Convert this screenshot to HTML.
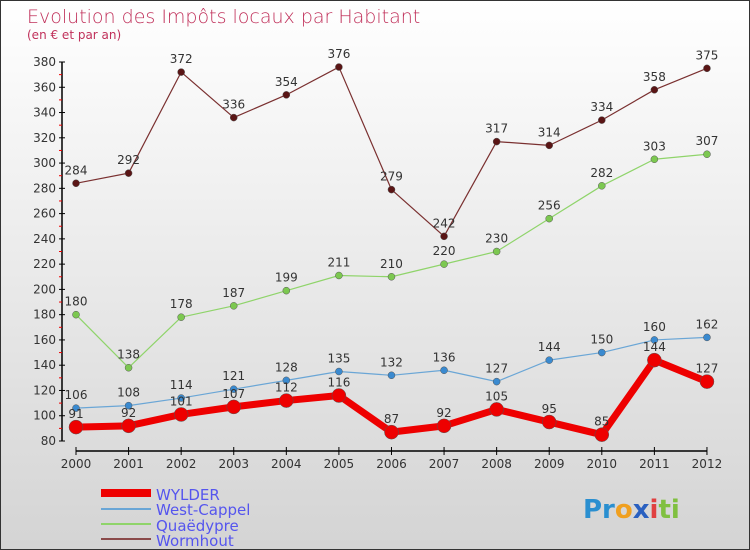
<!DOCTYPE html>
<html><head><meta charset="utf-8"><style>
body{margin:0}
#c{width:748px;height:548px;border:1px solid #333;background:linear-gradient(#ffffff,#d4d4d4);position:relative;font-family:"DejaVu Sans","Liberation Sans",sans-serif;overflow:hidden}
</style></head><body>
<div id="c">
<svg id="s" width="748" height="548" xmlns="http://www.w3.org/2000/svg">
<text x="26" y="22" font-size="19" fill="#c0305a" font-family="DejaVu Sans, sans-serif" font-weight="200">Evolution des Impôts locaux par Habitant</text>
<text x="26" y="38" font-size="12" fill="#c0305a">(en € et par an)</text>
<g id="axes"></g><g id="series"></g>
<g>
<line x1="100" y1="492" x2="150" y2="492" stroke="#e00" stroke-width="8"/>
<text x="155" y="499" font-size="15" fill="#5555ee">WYLDER</text>
<line x1="100" y1="508" x2="150" y2="508" stroke="#6aa6d6" stroke-width="2"/>
<text x="155" y="514" font-size="15" fill="#5555ee">West-Cappel</text>
<line x1="100" y1="523" x2="150" y2="523" stroke="#8fd46a" stroke-width="2"/>
<text x="155" y="530" font-size="15" fill="#5555ee">Quaëdypre</text>
<line x1="100" y1="538" x2="150" y2="538" stroke="#8a4a4a" stroke-width="2"/>
<text x="155" y="545" font-size="15" fill="#5555ee">Wormhout</text>
</g>
<text x="582" y="517" font-size="26" font-weight="bold"><tspan fill="#2a8fd0">Pr</tspan><tspan fill="#f0a020">o</tspan><tspan fill="#2a60c0">x</tspan><tspan fill="#e04040">i</tspan><tspan fill="#80c040">ti</tspan></text>
</svg></div>
<script>
const years=["2000","2001","2002","2003","2004","2005","2006","2007","2008","2009","2010","2011","2012"];
const yTicks=[80,100,120,140,160,180,200,220,240,260,280,300,320,340,360,380];
const wylder=[91,92,101,107,112,116,87,92,105,95,85,144,127];
const westCappel=[106,108,114,121,128,135,132,136,127,144,150,160,162];
const quaedypre=[180,138,178,187,199,211,210,220,230,256,282,303,307];
const wormhout=[284,292,372,336,354,376,279,242,317,314,334,358,375];
const NS="http://www.w3.org/2000/svg";
function X(i){return 75+i*52.58;}
function Y(v){return 440-(v-80)*379/300;}
function mk(t,a,p){const e=document.createElementNS(NS,t);for(const k in a)e.setAttribute(k,a[k]);p.appendChild(e);return e;}
const ax=document.getElementById('axes');
const ya=mk('line',{x1:61,y1:Y(380),x2:61,y2:440,stroke:'#000','stroke-width':1.5},ax);


yTicks.forEach((v,i)=>{
 mk('line',{x1:58,y1:Y(v),x2:64,y2:Y(v),stroke:'#000'},ax);
 if(i<yTicks.length-1)mk('line',{x1:58,y1:Y(v+10),x2:61,y2:Y(v+10),stroke:'#e00'},ax);
 const t=mk('text',{x:55,y:Y(v)+4,'font-size':12,fill:'#333','text-anchor':'end'},ax);t.textContent=v;
 
 
});
const xa=mk('line',{x1:75,y1:450,x2:X(12),y2:450,stroke:'#000','stroke-width':1.5},ax);


years.forEach((y,i)=>{
 mk('line',{x1:X(i),y1:446,x2:X(i),y2:454,stroke:'#000'},ax);
 const t=mk('text',{x:X(i),y:467,'font-size':12,fill:'#333','text-anchor':'middle'},ax);t.textContent=y;
 
 
});
const sg=document.getElementById('series');
function series(d,name,col,w,r,dot){
 const g=mk('g',{},sg);
 
 
 mk('polyline',{points:d.map((v,i)=>X(i)+','+Y(v)).join(' '),fill:'none',stroke:col,'stroke-width':w,'stroke-linejoin':'round'},g);
 d.forEach((v,i)=>{
  const c=mk('circle',{cx:X(i),cy:Y(v),r:r,fill:dot,stroke:'#555','stroke-width':0.5},g);
  
  
  const t=mk('text',{x:X(i),y:Y(v)-9,'font-size':12,fill:'#333','text-anchor':'middle'},g);t.textContent=v;
  
  
 });
}
series(wormhout,'wormhout','#7a3030',1.2,3.5,'#5a1515');
series(quaedypre,'quaedypre','#8fd46a',1.2,3.5,'#7cc850');
series(westCappel,'west-cappel','#6aa6d6',1.2,3.5,'#3a8ad0');
series(wylder,'wylder','#ee0000',7,7,'#ee0000');
</script>
</body></html>
